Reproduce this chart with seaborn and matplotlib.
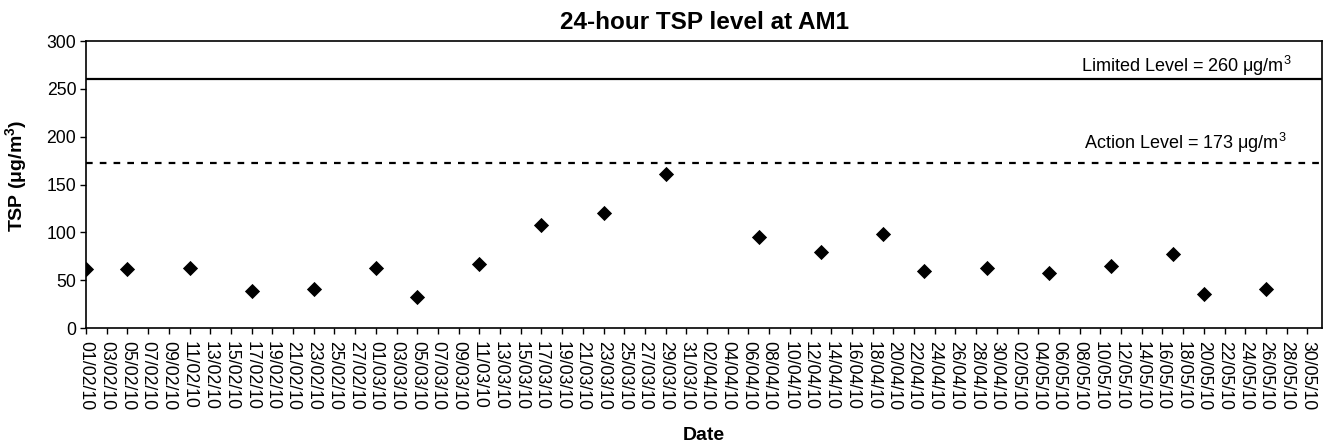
import pandas as pd
import matplotlib
matplotlib.use("Agg")
import matplotlib.pyplot as plt
import matplotlib.dates as mdates
import seaborn as sns

# =========================
# DATA
# =========================

dates = [
    "2010-02-01", "2010-02-05", "2010-02-11", "2010-02-17", "2010-02-23",
    "2010-03-01", "2010-03-05", "2010-03-11", "2010-03-17", "2010-03-23",
    "2010-03-29", "2010-04-07", "2010-04-13", "2010-04-19", "2010-04-23",
    "2010-04-29", "2010-05-05", "2010-05-11", "2010-05-17", "2010-05-20",
    "2010-05-26",
]

tsp = [
    62, 62, 63, 39, 41,
    63, 33, 67, 108, 120,
    161, 95, 80, 98, 60,
    63, 58, 65, 77, 36,
    41,
]

limit_level = 260
action_level = 173

df = pd.DataFrame({"date": pd.to_datetime(dates), "tsp": tsp})

tick_dates = pd.date_range("2010-02-01", "2010-05-30", freq="2D")

# =========================
# PLOT
# =========================

sns.set_style("white")
plt.rcParams["font.family"] = ["Liberation Sans", "DejaVu Sans"]
plt.rcParams["text.color"] = "black"
plt.rcParams["axes.labelcolor"] = "black"
plt.rcParams["xtick.color"] = "black"
plt.rcParams["ytick.color"] = "black"

fig = plt.figure(figsize=(13.3, 4.47), dpi=100)
ax = fig.add_axes([0.0647, 0.266, 0.9293, 0.642])

sns.scatterplot(
    data=df,
    x="date",
    y="tsp",
    marker="D",
    color="black",
    s=60,
    edgecolor="black",
    linewidth=0,
    ax=ax,
)

ax.axhline(limit_level, color="black", lw=1.6)
ax.axhline(action_level, color="black", lw=1.6, linestyle=(0, (3, 3.2)))

ax.set_ylim(0, 300)
ax.set_yticks(range(0, 301, 50))
ax.set_xlim(pd.Timestamp("2010-02-01"), pd.Timestamp("2010-05-31 10:00"))
ax.set_xticks(tick_dates)
ax.xaxis.set_major_formatter(mdates.DateFormatter("%d/%m/%y"))

ax.tick_params(axis="x", rotation=270, labelsize=12.7, length=4, width=1,
               direction="out", bottom=True, pad=5)
ax.tick_params(axis="y", labelsize=12.7, length=4, width=1,
               direction="out", left=True, pad=3)

for s in ax.spines.values():
    s.set_color("black")
    s.set_linewidth(1.2)

ax.text(pd.Timestamp("2010-05-28 12:00"), limit_level + 1,
        r"Limited Level = 260 $\mathregular{\mu g/m^3}$",
        ha="right", va="bottom", fontsize=13)
ax.text(pd.Timestamp("2010-05-28"), action_level + 8,
        r"Action Level = 173 $\mathregular{\mu g/m^3}$",
        ha="right", va="bottom", fontsize=13)

ax.set_title("24-hour TSP level at AM1", fontsize=17.5, fontweight="bold", pad=9)
ax.set_xlabel("Date", fontsize=14, fontweight="bold", labelpad=12)
ax.set_ylabel(r"TSP ($\mathregular{\mu g/m^3}$)", fontsize=14, fontweight="bold")
ax.yaxis.set_label_coords(-0.046, 0.53)

fig.savefig("out.png", dpi=100)
